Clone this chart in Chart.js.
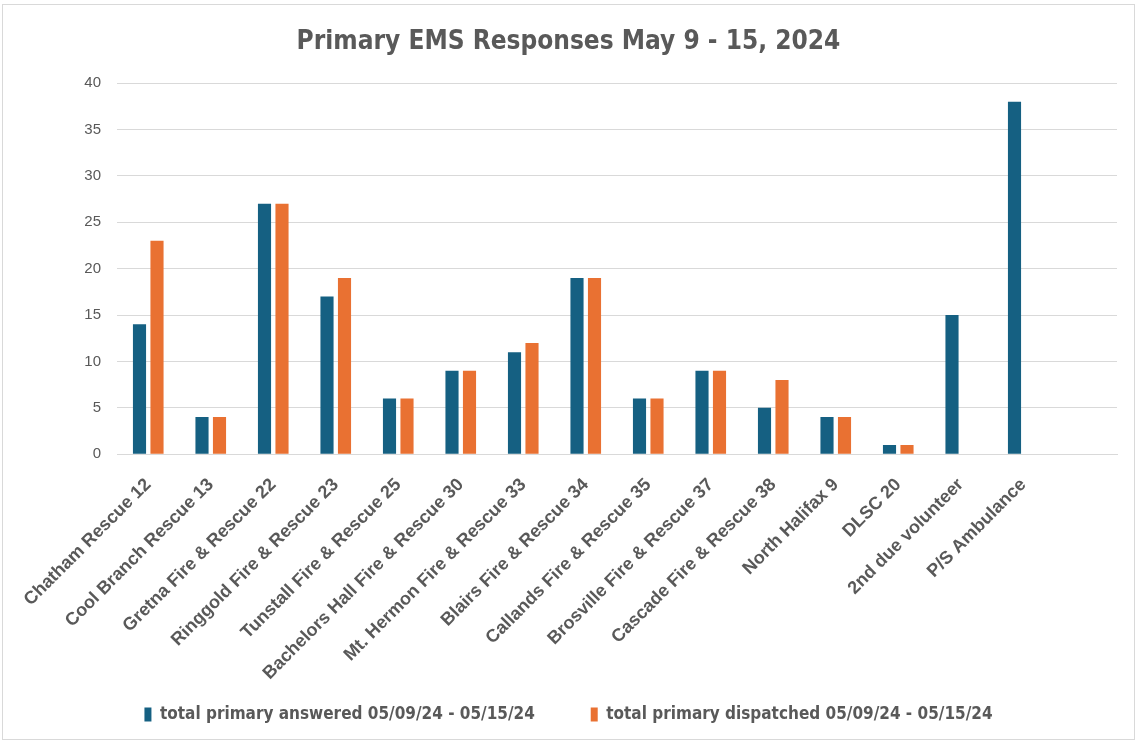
<!DOCTYPE html>
<html>
<head>
<meta charset="utf-8">
<script src="https://cdn.jsdelivr.net/npm/chart.js@4.4.1/dist/chart.umd.min.js"></script>
<style>
    html, body { margin: 0; padding: 0; background: #fff; }
    #wrap {
        position: absolute; left: 2px; top: 4px; width: 1133px; height: 736px;
        border: 1px solid #d9d9d9; box-sizing: border-box;
    }
</style>
</head>
<body>
<div id="wrap"><canvas id="myChart"></canvas></div>
<script>
// chart data
const categories = [
    "Chatham Rescue 12",
    "Cool Branch Rescue 13",
    "Gretna Fire & Rescue 22",
    "Ringgold Fire & Rescue 23",
    "Tunstall Fire & Rescue 25",
    "Bachelors Hall Fire & Rescue 30",
    "Mt. Hermon Fire & Rescue 33",
    "Blairs Fire & Rescue 34",
    "Callands Fire & Rescue 35",
    "Brosville Fire & Rescue 37",
    "Cascade Fire & Rescue 38",
    "North Halifax 9",
    "DLSC 20",
    "2nd due volunteer",
    "P/S Ambulance",
    ""
]
const answered = [14, 4, 27, 17, 6, 9, 11, 19, 6, 9, 5, 4, 1, 15, 38, null]
const dispatched = [23, 4, 27, 19, 6, 9, 12, 19, 6, 9, 8, 4, 1, null, null, null]
const seriesNames = [
    "total primary answered 05/09/24 - 05/15/24",
    "total primary dispatched 05/09/24 - 05/15/24"
]
const yTicks = [0, 5, 10, 15, 20, 25, 30, 35, 40]

const barColors = ["#156082", "#E97132"]
const narrow = "'Liberation Sans Narrow', 'DejaVu Sans Condensed', sans-serif"
const arial = "'Liberation Sans', Arial, sans-serif"

new Chart("myChart", {
    type: "bar",
    data: {
        labels: categories,
        datasets: [{
            label: seriesNames[0],
            data: answered,
            backgroundColor: barColors[0],
            categoryPercentage: 0.56,
            barPercentage: 0.75
        }, {
            label: seriesNames[1],
            data: dispatched,
            backgroundColor: barColors[1],
            categoryPercentage: 0.56,
            barPercentage: 0.75
        }]
    },
    options: {
        responsive: true,
        maintainAspectRatio: false,
        animation: false,
        layout: { padding: { left: 17, right: 17, top: 12, bottom: 6 } },
        plugins: {
            title: {
                display: true,
                text: "Primary EMS Responses May 9 - 15, 2024",
                color: "#595959",
                font: { family: narrow, size: 26, weight: "bold" },
                padding: { top: 10, bottom: 25 }
            },
            legend: {
                position: "bottom",
                labels: {
                    color: "#595959",
                    font: { family: narrow, size: 17, weight: "bold" },
                    boxWidth: 7,
                    boxHeight: 14,
                    padding: 10,
                    // wider gap between the two legend entries
                    generateLabels: (chart) => {
                        const items = Chart.defaults.plugins.legend.labels.generateLabels(chart)
                        items[0].text += "\u2003\u2003\u2003"
                        return items
                    }
                }
            },
            tooltip: { enabled: false }
        },
        scales: {
            x: {
                grid: { display: false },
                border: { color: "#d9d9d9" },
                ticks: {
                    color: "#595959",
                    font: { family: arial, size: 18, weight: "bold" },
                    minRotation: 45,
                    maxRotation: 45,
                    autoSkip: false,
                    padding: 12
                }
            },
            y: {
                min: 0,
                max: 40,
                afterBuildTicks: (axis) => { axis.ticks = yTicks.map(v => ({ value: v })) },
                afterFit: (axis) => { axis.width = 97 },
                grid: { color: "#d9d9d9", drawTicks: false },
                border: { display: false },
                ticks: {
                    color: "#595959",
                    font: { family: arial, size: 15 },
                    padding: 16
                }
            }
        }
    }
})
</script>
</body>
</html>
